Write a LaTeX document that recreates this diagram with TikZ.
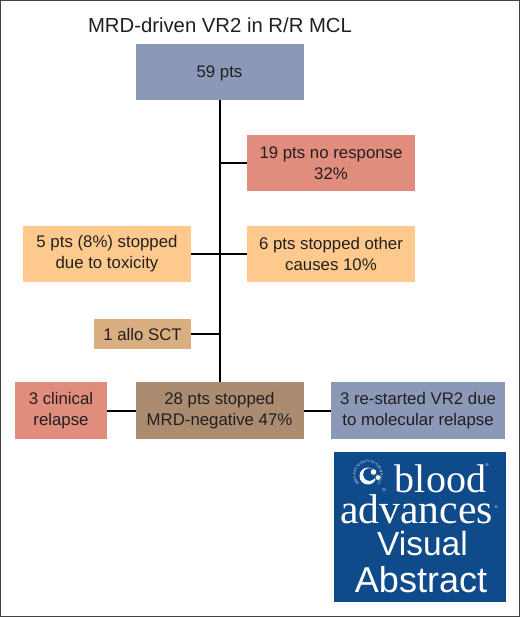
\documentclass[tikz,border=0pt]{standalone}
\usepackage{fontspec}
\setmainfont{Liberation Sans}
\newfontfamily\serifface{Liberation Serif}
\usetikzlibrary{decorations.text}
\definecolor{inkc}{HTML}{231F20}
\definecolor{bluebox}{HTML}{8C98B8}
\definecolor{redbox}{HTML}{E08D7E}
\definecolor{orangebox}{HTML}{FDC98C}
\definecolor{tanbox}{HTML}{D9AF82}
\definecolor{brownbox}{HTML}{AB8C70}
\definecolor{logoblue}{HTML}{0F4B8A}
\tikzset{
  x=1pt,y=-1pt,
  fbox/.style={inner sep=0pt,outer sep=0pt,align=center,text=inkc,font=\fontsize{16.8}{21}\selectfont},
  wide/.style={fbox,minimum width=168pt,minimum height=56pt},
  link/.style={draw=black,line width=2pt},
  logotxt/.style={text=white,inner sep=0pt,outer sep=0pt,anchor=base},
  regmark/.style={logotxt,font=\fontsize{4}{4}\selectfont}
}
\begin{document}
\begin{tikzpicture}
\useasboundingbox (0,0) rectangle (520,617);
\fill[white] (0,0) rectangle (520,617);
\draw[draw=inkc!85,line width=1.6pt] (0.6,0.6) rectangle (519.4,616.4);
\node[inner sep=0pt,text=inkc,font=\fontsize{20.3}{24}\selectfont] (title) at (220,25) {MRD-driven VR2 in R/R MCL};
\node[wide,fill=bluebox,text depth=0pt] (top) at (219.5,72) {59 pts};
\node[wide,fill=redbox] (noresp) at (331,163) {19 pts no response\\32\%};
\node[wide,fill=orangebox] (tox) at (107,254) {5 pts (8\%) stopped\\due to toxicity};
\node[wide,fill=orangebox] (other) at (331,254) {6 pts stopped other\\causes 10\%};
\node[fbox,fill=tanbox,minimum width=97pt,minimum height=30pt] (allo) at (142.5,334) {1 allo SCT};
\node[wide,minimum height=57pt,fill=brownbox] (mrd) at (219.5,410.5) {28 pts stopped\\MRD-negative 47\%};
\node[fbox,fill=redbox,minimum width=92pt,minimum height=57pt] (clin) at (61,410.5) {3 clinical\\relapse};
\node[fbox,fill=bluebox,minimum width=174pt,minimum height=57pt] (restart) at (418,410.5) {3 re-started VR2 due\\to molecular relapse};
\draw[link] (top.south) -- (mrd.north);
\draw[link] (noresp.west) -- (noresp.west -| mrd.north);
\draw[link] (tox.east) -- (other.west);
\draw[link] (allo.east) -- (allo.east -| mrd.north);
\draw[link] (clin.east) -- (mrd.west);
\draw[link] (mrd.east) -- (restart.west);
% logo
\node[fill=logoblue,inner sep=0pt,minimum width=172pt,minimum height=150pt] (logo) at (420,527) {};
\node[logotxt,font=\serifface\fontsize{40}{40}\selectfont] (lblood) at (440.5,492) {blood};
\node[logotxt,font=\serifface\fontsize{41.6}{41}\selectfont] (ladv) at (416.5,523) {advances};
\node[logotxt,font=\fontsize{33.5}{36}\selectfont] (lvis) at (422.5,555) {Visual};
\node[logotxt,font=\fontsize{36}{36}\selectfont] (labs) at (421,592) {Abstract};
\node[regmark] (regblood) at (487,466) {®};
\node[regmark] (regadv) at (496,508) {®};
\node[regmark] (regicon) at (384,491) {®};
% society seal
\fill[white] (368,476) circle (8.5);
\fill[logoblue] (369.5,474.5) circle (6.3);
\filldraw[fill=white,draw=logoblue,line width=0.7pt] (373.5,472) circle (3.3);
\filldraw[fill=white,draw=logoblue,line width=0.7pt] (378,477.5) circle (2.9);
\path[decorate,decoration={text along path,text align={fit to path},
  text={|\fontsize{3}{3}\selectfont\color{white}|AMERICAN SOCIETY OF HEMATOLOGY}}]
  (368,475) ++(-225:12.5) arc[start angle=-225,end angle=45,radius=12.5];
\end{tikzpicture}
\end{document}
